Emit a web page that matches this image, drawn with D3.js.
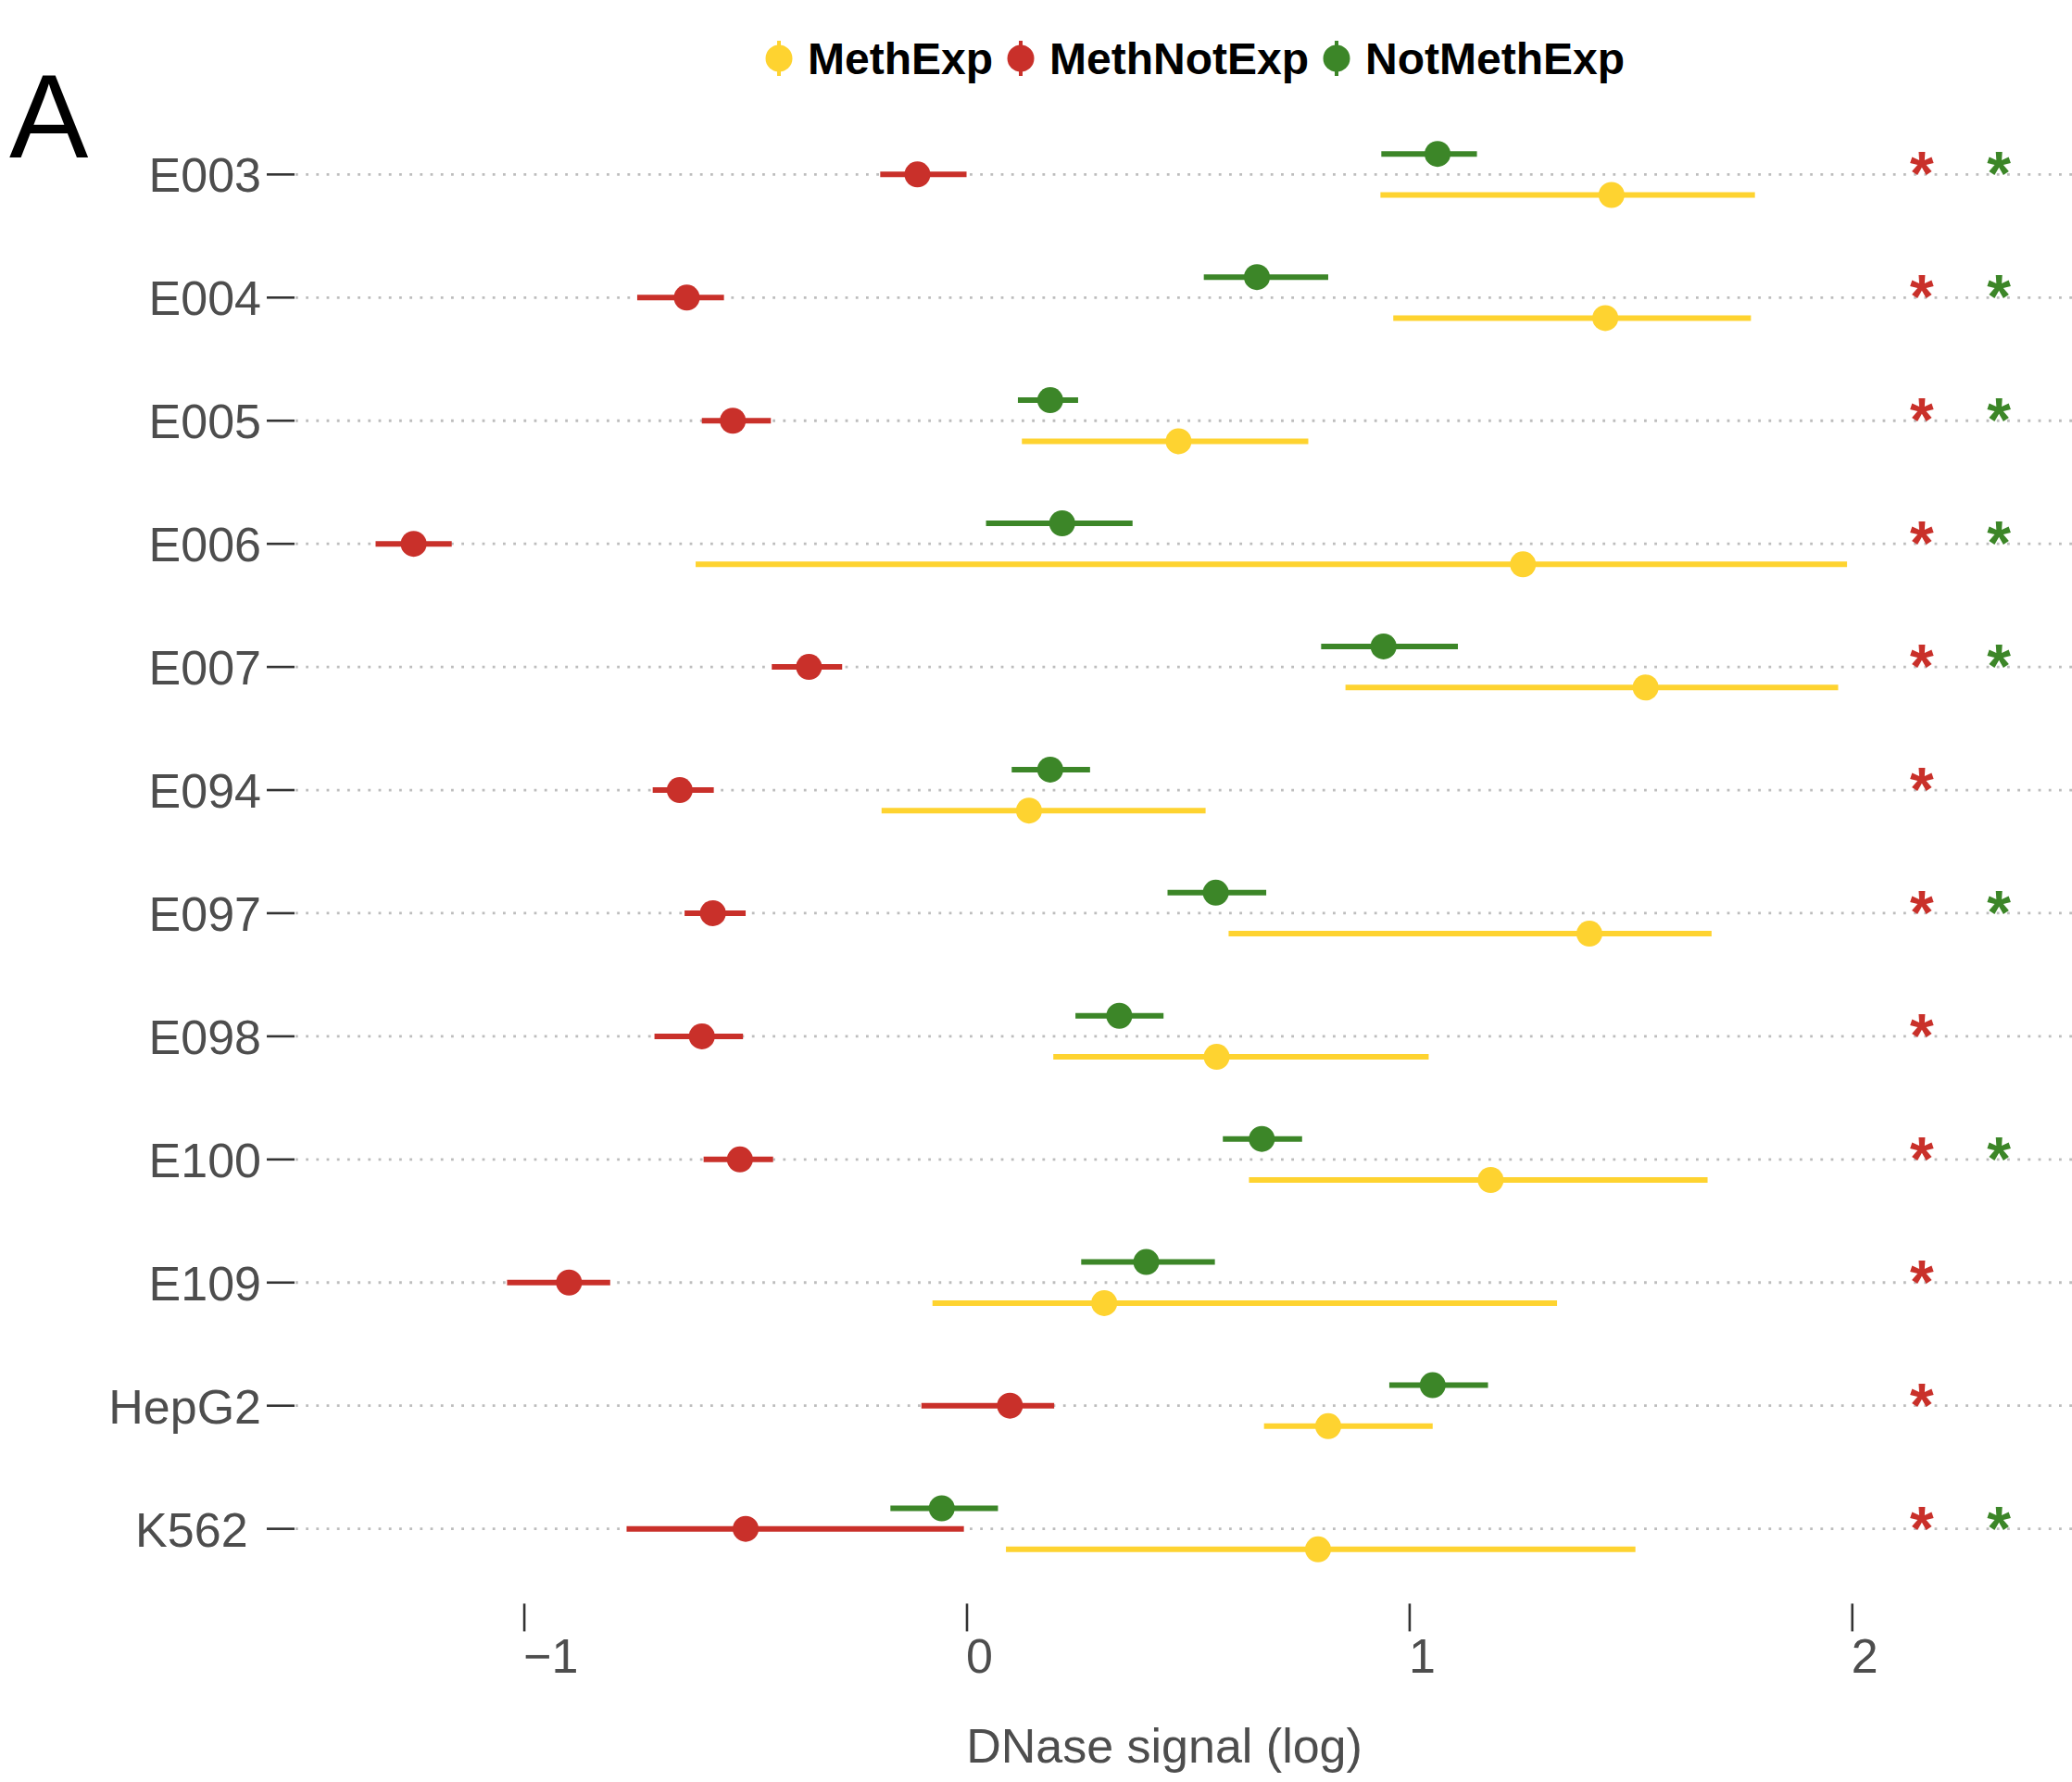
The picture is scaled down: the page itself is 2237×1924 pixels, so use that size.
<!DOCTYPE html>
<html>
<head>
<meta charset="utf-8">
<script src="https://cdn.jsdelivr.net/npm/d3@7"></script>
<style>
  html, body { margin: 0; padding: 0; background: #fff; }
  svg { display: block; font-family: "Liberation Sans", Arial, Helvetica, sans-serif; }
</style>
</head>
<body>
<svg id="chart" width="2237" height="1924"></svg>
<script>
// ---------------- DATA ----------------
const categories = ["E003","E004","E005","E006","E007","E094","E097","E098","E100","E109","HepG2","K562"];
const seriesNames = ["MethExp","MethNotExp","NotMethExp"];
const seriesColors = ["#FED330","#C9302A","#3C8628"];

// MethExp (yellow)
const methExpMean  = [1.456, 1.442, 0.478, 1.256, 1.533, 0.140, 1.406, 0.564, 1.183, 0.310, 0.816, 0.793];
const methExpLow   = [0.934, 0.963, 0.124, -0.613, 0.855, -0.193, 0.591, 0.195, 0.637, -0.078, 0.671, 0.088];
const methExpHigh  = [1.780, 1.771, 0.771, 1.988, 1.968, 0.539, 1.682, 1.043, 1.673, 1.333, 1.052, 1.510];
// MethNotExp (red)
const methNotMean  = [-0.112, -0.633, -0.529, -1.250, -0.357, -0.649, -0.574, -0.599, -0.513, -0.899, 0.097, -0.500];
const methNotLow   = [-0.196, -0.745, -0.599, -1.336, -0.441, -0.710, -0.638, -0.706, -0.595, -1.039, -0.103, -0.769];
const methNotHigh  = [-0.001, -0.549, -0.443, -1.164, -0.282, -0.572, -0.500, -0.506, -0.438, -0.806, 0.197, -0.007];
// NotMethExp (green)
const notMethMean  = [1.063, 0.655, 0.188, 0.215, 0.941, 0.188, 0.562, 0.344, 0.666, 0.405, 1.052, -0.057];
const notMethLow   = [0.936, 0.535, 0.115, 0.043, 0.800, 0.101, 0.453, 0.245, 0.578, 0.258, 0.954, -0.173];
const notMethHigh  = [1.152, 0.816, 0.251, 0.374, 1.109, 0.278, 0.676, 0.444, 0.757, 0.560, 1.177, 0.070];

// significance markers
const sigRed   = [true,true,true,true,true,true,true,true,true,true,true,true];
const sigGreen = [true,true,true,true,true,false,true,false,true,false,false,true];
const sigRedX = 2.157, sigGreenX = 2.331;

const xTicks = [-1, 0, 1, 2];
const xTickLabels = ["\u22121", "0", "1", "2"];
const xTitle = "DNase signal (log)";
const panelLabel = "A";

// ---------------- LAYOUT ----------------
const svg = d3.select("#chart");
const panel = { left: 319, right: 2245, top: 108.6, bottom: 1730.4 };

const x = d3.scaleLinear().domain([-1.517, 2.513]).range([panel.left, panel.right]);
const y = d3.scalePoint().domain(categories).range([panel.top, panel.bottom]).padding(0.6);
const step = y.step();
const dodge = step * 0.5 / 3;
// offsets: MethExp below, MethNotExp center, NotMethExp above
const offsets = [dodge, 0, -dodge];

const series = [
  { mean: methExpMean, low: methExpLow, high: methExpHigh },
  { mean: methNotMean, low: methNotLow, high: methNotHigh },
  { mean: notMethMean, low: notMethLow, high: notMethHigh }
];

// gridlines (dotted)
svg.append("g").selectAll("line").data(categories).join("line")
  .attr("x1", panel.left).attr("x2", panel.right)
  .attr("y1", d => y(d)).attr("y2", d => y(d))
  .attr("stroke", "#BDBDBD").attr("stroke-width", 2.8)
  .attr("stroke-dasharray", "2.8 8.4");

// y axis ticks and labels
const yAxisG = svg.append("g");
yAxisG.selectAll("line").data(categories).join("line")
  .attr("x1", panel.left - 31).attr("x2", panel.left - 1)
  .attr("y1", d => y(d)).attr("y2", d => y(d))
  .attr("stroke", "#333333").attr("stroke-width", 2.6);
yAxisG.selectAll("text").data(categories).join("text")
  .attr("x", panel.left - 37)
  .attr("y", d => y(d) + 19)
  .attr("text-anchor", "end")
  .attr("font-size", 52)
  .attr("fill", "#4D4D4D")
  .style("white-space", "pre")
  .text(d => d === "K562" ? "K562\u00a0" : d);

// x axis ticks & labels
const xAxisG = svg.append("g");
xAxisG.selectAll("line").data(xTicks).join("line")
  .attr("x1", d => x(d)).attr("x2", d => x(d))
  .attr("y1", panel.bottom + 1).attr("y2", panel.bottom + 31)
  .attr("stroke", "#333333").attr("stroke-width", 2.6);
xAxisG.selectAll("text").data(xTicks).join("text")
  .attr("x", d => x(d) - 1)
  .attr("y", 1806)
  .attr("text-anchor", "start")
  .attr("font-size", 52)
  .attr("fill", "#4D4D4D")
  .text((d, i) => xTickLabels[i]);

svg.append("text")
  .attr("x", 1257).attr("y", 1903)
  .attr("text-anchor", "middle")
  .attr("font-size", 52)
  .attr("fill", "#4D4D4D")
  .text(xTitle);

// error bars and points
series.forEach((s, si) => {
  const g = svg.append("g");
  g.selectAll("line").data(categories).join("line")
    .attr("x1", (d, i) => x(s.low[i])).attr("x2", (d, i) => x(s.high[i]))
    .attr("y1", d => y(d) + offsets[si]).attr("y2", d => y(d) + offsets[si])
    .attr("stroke", seriesColors[si]).attr("stroke-width", 6);
  g.selectAll("circle").data(categories).join("circle")
    .attr("cx", (d, i) => x(s.mean[i]))
    .attr("cy", d => y(d) + offsets[si])
    .attr("r", 14)
    .attr("fill", seriesColors[si]);
});

// significance asterisks
const sigG = svg.append("g").attr("font-weight", "bold").attr("font-size", 66).attr("text-anchor", "middle");
sigG.selectAll("text.r").data(categories.filter((c, i) => sigRed[i])).join("text")
  .attr("class", "r")
  .attr("x", x(sigRedX)).attr("y", d => y(d) + 22)
  .attr("fill", seriesColors[1]).text("*");
sigG.selectAll("text.g").data(categories.filter((c, i) => sigGreen[i])).join("text")
  .attr("class", "g")
  .attr("x", x(sigGreenX)).attr("y", d => y(d) + 22)
  .attr("fill", seriesColors[2]).text("*");

// panel label
svg.append("text").attr("x", 10).attr("y", 170)
  .attr("font-size", 128).attr("fill", "#000").text(panelLabel);

// legend
const legendG = svg.append("g");
const legendCy = 63;
const items = [];
let cursor = 0;
seriesNames.forEach((name, i) => {
  const t = legendG.append("text")
    .attr("font-size", 48).attr("font-weight", "bold").attr("fill", "#000")
    .attr("y", 80).text(name);
  const w = t.node().getComputedTextLength();
  items.push({ t, w, keyX: cursor, i });
  cursor += 31 + w + 30;
});
const totalW = cursor - 30 + 15; // from left edge of first key
const startX = 1290 - totalW / 2 + 15;
items.forEach(it => {
  const kx = startX + it.keyX;
  legendG.append("line")
    .attr("x1", kx).attr("x2", kx)
    .attr("y1", legendCy - 19).attr("y2", legendCy + 19)
    .attr("stroke", seriesColors[it.i]).attr("stroke-width", 4);
  legendG.append("circle")
    .attr("cx", kx).attr("cy", legendCy).attr("r", 14.5)
    .attr("fill", seriesColors[it.i]);
  it.t.attr("x", kx + 31);
});
</script>
</body>
</html>
